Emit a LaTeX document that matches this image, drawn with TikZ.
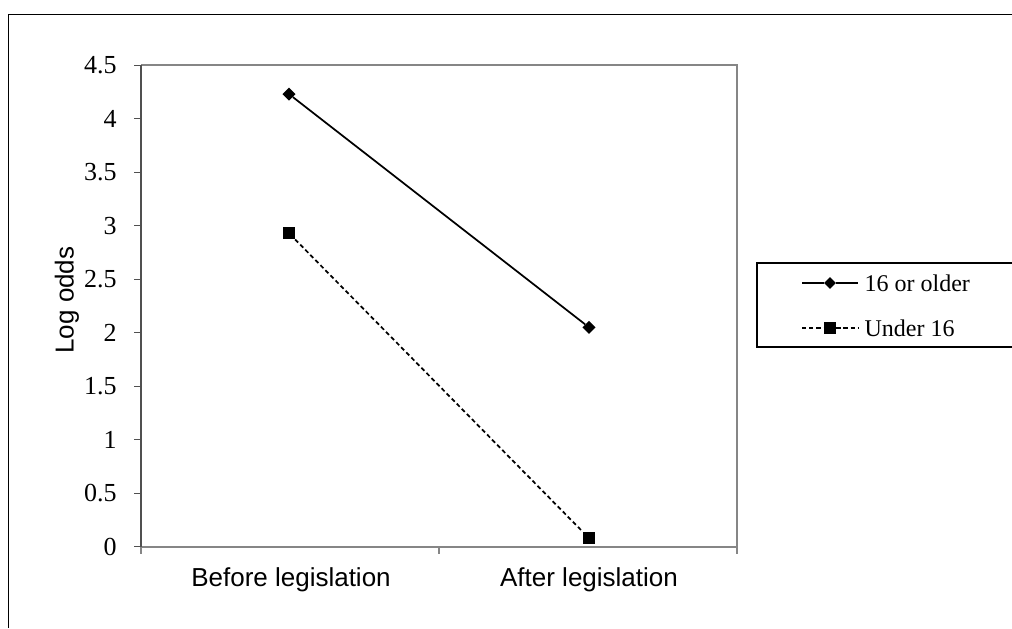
\documentclass[tikz,border=0pt]{standalone}
\usepackage{fontspec}
\setmainfont{Liberation Serif}
\setsansfont{Liberation Sans}
\usetikzlibrary{shapes.geometric,positioning}

\tikzset{
  diamondmark/.style={diamond,fill=black,inner sep=0pt,minimum size=10pt},
  squaremark/.style={rectangle,fill=black,inner sep=0pt,minimum size=9pt},
  olderline/.style={line width=1.3pt},
  underline/.style={line width=1.3pt,dash pattern=on 3.2pt off 2.2pt},
  frameline/.style={color={rgb,255:red,134;green,134;blue,134},line width=1.3pt},
  axisline/.style={color={rgb,255:red,80;green,80;blue,80},line width=1pt},
  numlabel/.style={inner sep=0.75pt,font=\fontsize{19.5}{22}\selectfont},
  keylabel/.style={inner sep=0.75pt,font=\fontsize{18}{21}\selectfont},
  catlabel/.style={inner sep=0.75pt,font=\sffamily\fontsize{19.5}{22}\selectfont}
}

\begin{document}
\begin{tikzpicture}[x=0.75pt,y=0.75pt,yscale=-1,xscale=1]
        \useasboundingbox (0,0) rectangle (1012,628);

        %Outer frame
        \draw [line width=1.2pt] (8.5,628) -- (8.5,14.5) -- (1012,14.5) ;

        %Plot area
        \draw [frameline] (141,65) -- (737,65) -- (737,546.7) -- (141,546.7) ;
        \draw [axisline] (141,65) -- (141,546.7) ;

        %Y ticks and labels
        \foreach \v in {0,0.5,1,1.5,2,2.5,3,3.5,4,4.5}{
            \draw [axisline] (134,{546.7-107*\v}) -- (141,{546.7-107*\v}) ;
            \node [numlabel,anchor=east] (y\v) at (118,{546.7-107*\v}) {\v};
        }
        %X ticks
        \foreach \x in {141,439,737}{
            \draw [frameline,line width=1pt] (\x,546.7) -- (\x,554) ;
        }

        % Text Node
        \node [catlabel,rotate=90] (ylab) at (67,300) {Log odds};
        \node [catlabel] (before) at (291,580) {Before legislation};
        \node [catlabel] (after) at (589,580) {After legislation};

        %Data points
        \node [diamondmark] (o1) at (289,{546.7-107*4.23}) {};
        \node [diamondmark] (o2) at (589,{546.7-107*2.05}) {};
        \node [squaremark] (u1) at (289,{546.7-107*2.93}) {};
        \node [squaremark] (u2) at (589,{546.7-107*0.08}) {};

        %Series lines
        \draw [olderline] (o1) -- (o2) ;
        \draw [underline] (u1) -- (u2) ;

        %Legend
        \draw [line width=1pt] (1012,263) -- (757,263) -- (757,347) -- (1012,347) ;
        \coordinate (la1) at (802,283);
        \coordinate (lb1) at (858,283);
        \coordinate (la2) at (802,328);
        \coordinate (lb2) at (858,328);
        \node [diamondmark,minimum size=9pt] (lm1) at (830,283) {};
        \node [squaremark] (lm2) at (830,328) {};
        \draw [olderline] (la1) -- (lm1) -- (lb1) ;
        \draw [underline] (la2) -- (lm2) -- (lb2) ;
        \node [keylabel,anchor=west,right=4pt of lb1] (lt1) {16 or older};
        \node [keylabel,anchor=west,right=4pt of lb2] (lt2) {Under 16};

    \end{tikzpicture}
\end{document}
